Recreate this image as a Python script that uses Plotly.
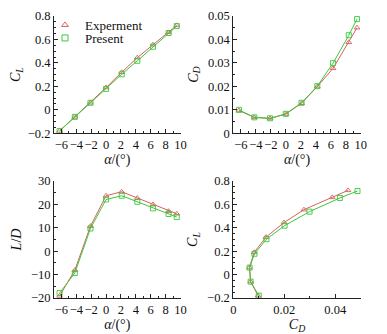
import plotly.graph_objects as go

alpha = [-6.25, -4.2, -2.1, 0.0, 2.1, 4.2, 6.3, 8.4, 9.5]

cl_exp = [-0.18, -0.06, 0.06, 0.19, 0.32, 0.445, 0.555, 0.66, 0.72]
cl_pre = [-0.18, -0.06, 0.06, 0.178, 0.303, 0.418, 0.538, 0.655, 0.714]

cd_exp = [0.0097, 0.0068, 0.0063, 0.0082, 0.0128, 0.0199, 0.0277, 0.0388, 0.0450]
cd_pre = [0.0100, 0.0068, 0.0064, 0.0083, 0.0130, 0.0201, 0.0299, 0.0418, 0.0487]

ld_exp = [-19.1, -8.1, 10.7, 23.7, 25.4, 22.7, 20.0, 17.1, 16.0]
ld_pre = [-17.9, -9.3, 9.7, 22.1, 23.7, 21.1, 18.3, 15.9, 14.6]

RED = "#d9605f"
GREEN = "#3cc83c"
FONT = "Liberation Serif, Times New Roman, serif"

fig = go.Figure()

def add(x, y, color, symbol, xa, ya):
    fig.add_trace(go.Scatter(
        x=x, y=y, mode="lines+markers", showlegend=False,
        line=dict(color=color, width=1),
        marker=dict(symbol=symbol, size=5, color=color,
                    line=dict(color=color, width=0.9)),
        xaxis=xa, yaxis=ya, cliponaxis=False))

add(alpha, cl_exp, RED, "triangle-up-open", "x", "y")
add(alpha, cl_pre, GREEN, "square-open", "x", "y")
add(alpha, cd_exp, RED, "triangle-up-open", "x2", "y2")
add(alpha, cd_pre, GREEN, "square-open", "x2", "y2")
add(alpha, ld_exp, RED, "triangle-up-open", "x3", "y3")
add(alpha, ld_pre, GREEN, "square-open", "x3", "y3")
add(cd_exp, cl_exp, RED, "triangle-up-open", "x4", "y4")
add(cd_pre, cl_pre, GREEN, "square-open", "x4", "y4")

# legend-only entries (marker only, as in the reference)
fig.add_trace(go.Scatter(x=[None], y=[None], mode="markers", name="Experment",
                         legend="legend",
                         marker=dict(symbol="triangle-up-open", size=6, color=RED,
                                     line=dict(color=RED, width=1))))
fig.add_trace(go.Scatter(x=[None], y=[None], mode="markers", name="Present",
                         legend="legend2",
                         marker=dict(symbol="square-open", size=6, color=GREEN,
                                     line=dict(color=GREEN, width=1))))

OFF = 8  # page body margin
W, H = 387 - OFF, 334 - OFF

def px_x(a, b):
    return [(a - OFF) / W, (b - OFF) / W]

def px_y(top, bottom):
    return [1 - (bottom - OFF) / H, 1 - (top - OFF) / H]

xl = px_x(54, 180.5)
xr = px_x(233.3, 360.8)
yt = px_y(16, 133.3)
yb = px_y(181, 298)

tickfont = dict(family=FONT, size=12.5, color="#111")
titlefont = dict(family=FONT, size=14, color="#111")

def ax(domain, rng, dtick, minor, title, anchor, standoff):
    return dict(domain=domain, range=rng, dtick=dtick, tick0=0, tickangle=0,
                showgrid=False, zeroline=False, showline=True,
                linecolor="#222", linewidth=1, mirror=False,
                ticks="inside", ticklen=4, tickcolor="#222", tickwidth=1,
                minor=dict(dtick=minor, tick0=0, ticks="inside", ticklen=2,
                           tickcolor="#222", showgrid=False),
                tickfont=tickfont, anchor=anchor, automargin=False,
                title=dict(text=title, font=titlefont, standoff=standoff))

def leg(y):
    return dict(x=(45 - OFF) / W, y=1 - (y - OFF) / H, xanchor="left", yanchor="middle",
                bgcolor="rgba(0,0,0,0)", borderwidth=0,
                font=dict(family=FONT, size=13, color="#111"),
                itemwidth=30)

A = "<i>α</i>/(°)"
fig.update_layout(
    width=W, height=H, margin=dict(l=0, r=0, t=0, b=0),
    paper_bgcolor="white", plot_bgcolor="white",
    showlegend=True,
    legend=leg(25),
    legend2=leg(38),
    xaxis=ax(xl, [-7, 10], 2, 1, A, "y", 2),
    yaxis=ax(yt, [-0.2, 0.8], 0.2, 0.05, "<i>C</i><sub><i>L</i></sub>", "x", 6),
    xaxis2=ax(xr, [-7, 10], 2, 1, A, "y2", 2),
    yaxis2=ax(yt, [0, 0.05], 0.01, 0.005, "<i>C</i><sub><i>D</i></sub>", "x2", 6),
    xaxis3=ax(xl, [-7, 10], 2, 1, A, "y3", 2),
    yaxis3=ax(yb, [-20, 30], 10, 5, "<i>L</i>/<i>D</i>", "x3", 6),
    xaxis4=ax(xr, [0, 0.05], 0.02, 0.01, "<i>C</i><sub><i>D</i></sub>", "y4", 2),
    yaxis4=ax(yb, [-0.2, 0.8], 0.2, 0.05, "<i>C</i><sub><i>L</i></sub>", "x4", 6),
)

fig.write_html("out.html")
